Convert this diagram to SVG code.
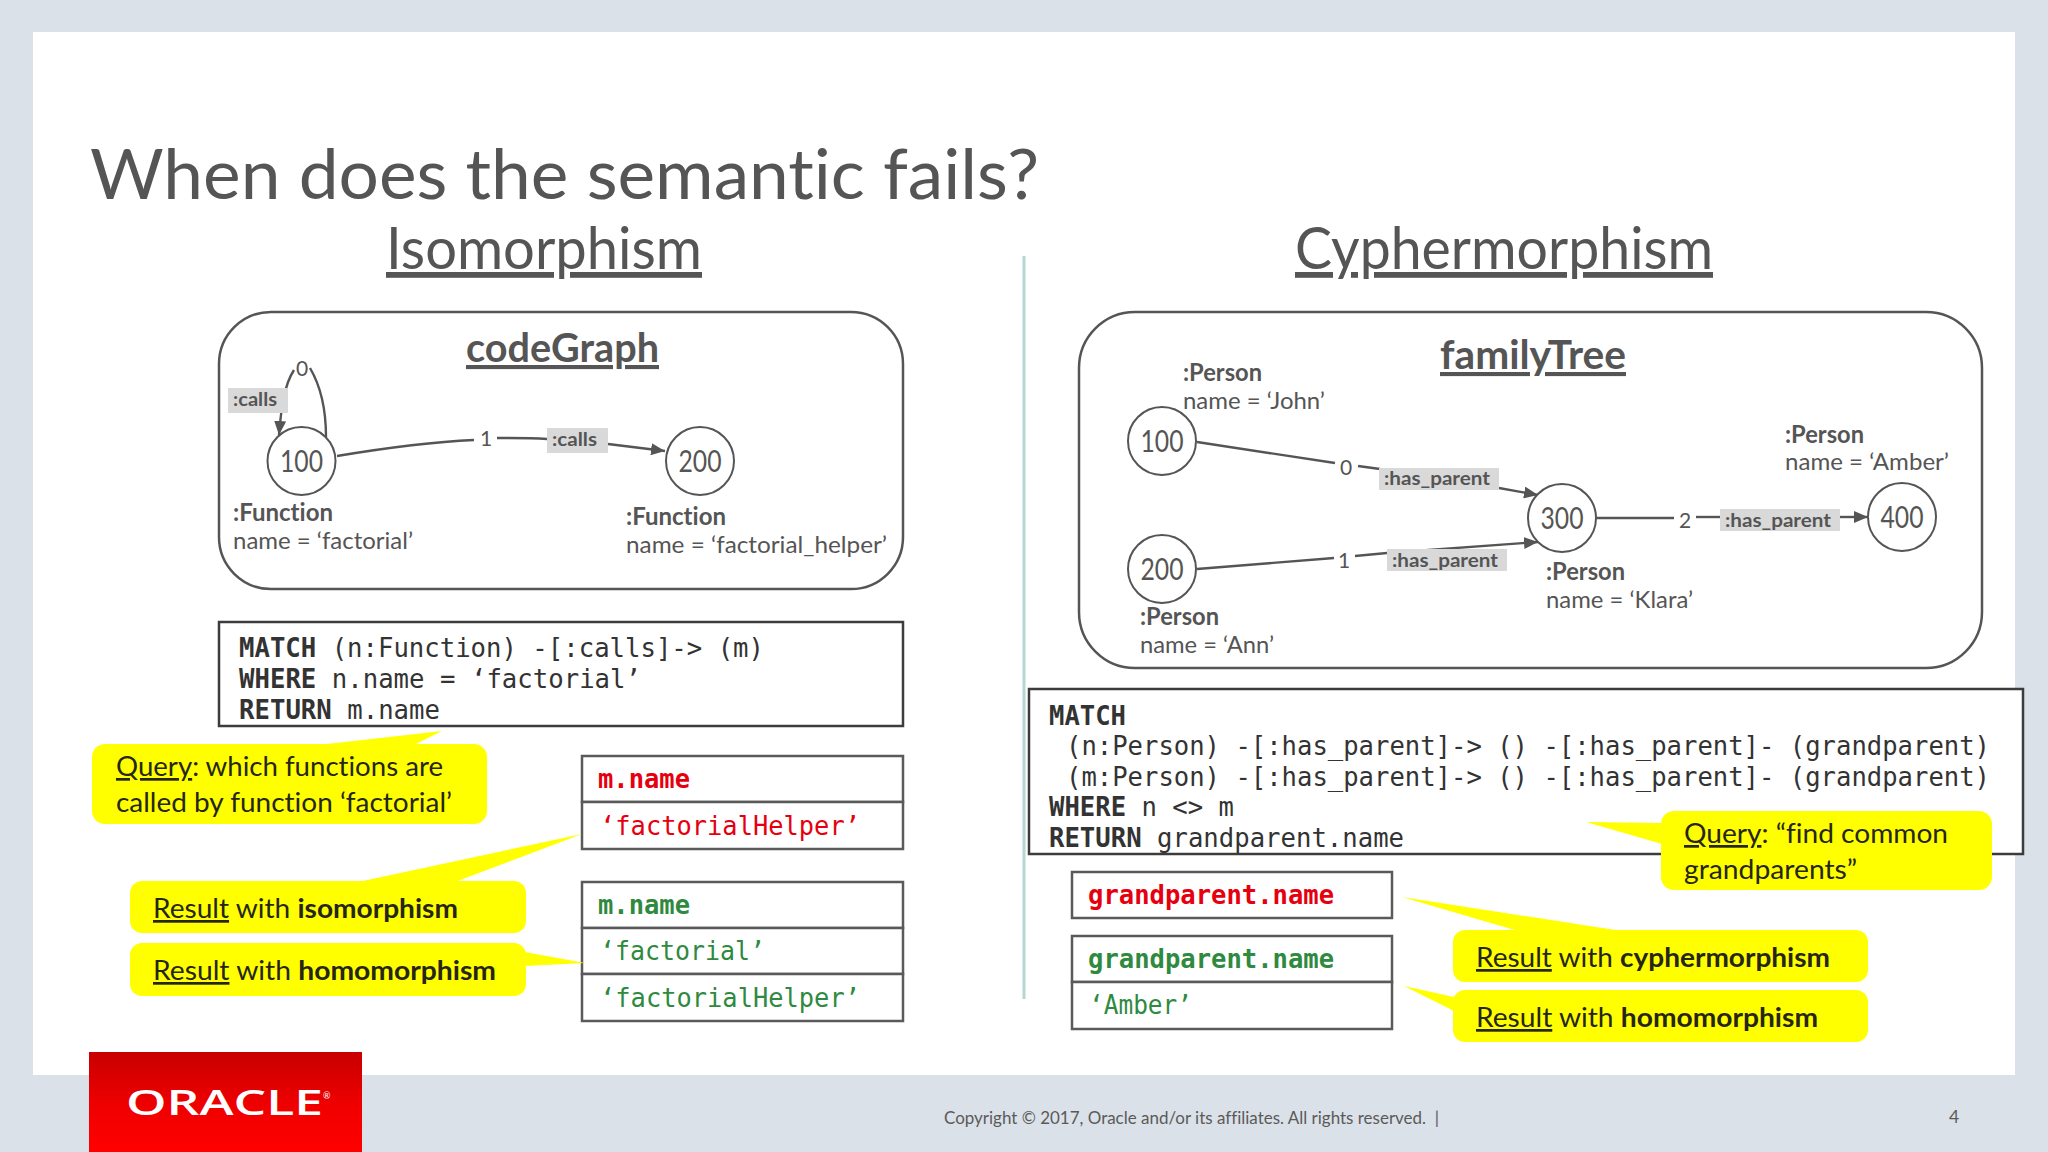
<svg xmlns="http://www.w3.org/2000/svg" width="2048" height="1152" viewBox="0 0 2048 1152">
<style>
text{font-family:Lato,"Liberation Sans",sans-serif;fill:#555;font-variant-ligatures:none}
.title{font-size:70px}
.head{font-size:58px}
.graph{font-size:41px;font-weight:700}
.lab{font-size:24px;font-weight:400}
.b{font-weight:700}
.num{font-size:30px}
.el{font-size:19px;font-weight:700}
.seq{font-size:21px}
.code{font-family:"DejaVu Sans Mono","Liberation Mono",monospace;font-size:26px;fill:#333}
.res{font-family:"DejaVu Sans Mono","Liberation Mono",monospace;font-size:26px}
.red{fill:#e6000f}.green{fill:#2f8a3f}
.note{font-size:27px;fill:#262618}
.u{text-decoration:underline}
.frame{fill:#fff;stroke:#555;stroke-width:2.5}
.box{fill:#fff;stroke:#3c3c3c;stroke-width:2.5}
.cell{fill:#fff;stroke:#5a5a5a;stroke-width:2.5}
.node{fill:#fff;stroke:#555;stroke-width:2}
.bub{fill:#ffff00}
.edge{fill:none;stroke:#555;stroke-width:2.4}
.tag{fill:#d9d9d9}
</style>
<defs>
<marker id="arrow" viewBox="0 0 14 12" refX="14" refY="6" markerWidth="14" markerHeight="12" markerUnits="userSpaceOnUse" orient="auto"><path d="M0,0L14,6L0,12Z" fill="#555"/></marker>
<linearGradient id="red" x1="0" y1="0" x2="0" y2="1"><stop offset="0" stop-color="#c80000"/><stop offset="0.55" stop-color="#f00000"/><stop offset="1" stop-color="#ff0000"/></linearGradient>
</defs>
<rect width="2048" height="1152" fill="#dae1e8"/>
<rect x="33" y="32" width="1982" height="1043" fill="#fff"/>
<rect x="89" y="1052" width="273" height="100" fill="url(#red)"/>
<text x="126" y="1115" font-size="35" font-weight="600" style="font-family:'Open Sans',sans-serif;fill:#fff" textLength="197" lengthAdjust="spacingAndGlyphs">ORACLE</text>
<text x="323" y="1099" font-size="9" style="fill:#fff">®</text>
<text class="title" x="90" y="199" textLength="949" lengthAdjust="spacingAndGlyphs">When does the semantic fails?</text>
<text class="head" x="386" y="269" textLength="316" lengthAdjust="spacingAndGlyphs"><tspan class="u">Isomorphism</tspan></text>
<text class="head" x="1295" y="269" textLength="418" lengthAdjust="spacingAndGlyphs"><tspan class="u">Cyphermorphism</tspan></text>
<line x1="1024" y1="256" x2="1024" y2="999" stroke="#b7d6d1" stroke-width="3"/>

<g id="codeGraph">
<rect class="frame" x="219" y="312" width="684" height="277" rx="52"/>
<text class="graph" x="466" y="362" textLength="193" lengthAdjust="spacingAndGlyphs"><tspan class="u">codeGraph</tspan></text>
</g>
<g id="familyTree">
<rect class="frame" x="1079" y="312" width="903" height="356" rx="56"/>
<text class="graph" x="1440" y="369" textLength="186" lengthAdjust="spacingAndGlyphs"><tspan class="u">familyTree</tspan></text>
</g>

<g id="connectors">
<path class="edge" d="M326,437C326,410 320,385 310,368"/>
<path class="edge" d="M294,370C284,385 281,410 279,435" marker-end="url(#arrow)"/>
<path class="edge" d="M337,456C385,448 430,442 474,440"/>
<path class="edge" d="M497,438C515,438 530,438 547,439"/>
<path class="edge" d="M608,444L665,451" marker-end="url(#arrow)"/>
<path class="edge" d="M1197,442L1335,463"/>
<path class="edge" d="M1358,466L1380,469"/>
<path class="edge" d="M1499,488L1538,495" marker-end="url(#arrow)"/>
<path class="edge" d="M1197,569L1334,558"/>
<path class="edge" d="M1355,556L1387,553"/>
<path class="edge" d="M1387,553L1538,542" marker-end="url(#arrow)"/>
<path class="edge" d="M1596,518L1674,518"/>
<path class="edge" d="M1696,517L1720,517"/>
<path class="edge" d="M1840,517L1868,517" marker-end="url(#arrow)"/>
<rect class="tag" x="228" y="388" width="60" height="25"/>
<text class="el" x="233" y="406" textLength="44" lengthAdjust="spacingAndGlyphs">:calls</text>
<rect class="tag" x="547" y="428" width="61" height="25"/>
<text class="el" x="552" y="446" textLength="45" lengthAdjust="spacingAndGlyphs">:calls</text>
<rect class="tag" x="1379" y="468" width="120" height="22"/>
<text class="el" x="1384" y="485" textLength="106" lengthAdjust="spacingAndGlyphs">:has_parent</text>
<rect class="tag" x="1387" y="549" width="120" height="22"/>
<text class="el" x="1392" y="567" textLength="106" lengthAdjust="spacingAndGlyphs">:has_parent</text>
<rect class="tag" x="1720" y="509" width="120" height="22"/>
<text class="el" x="1725" y="527" textLength="106" lengthAdjust="spacingAndGlyphs">:has_parent</text>
<text class="seq" x="296" y="376">0</text>
<text class="seq" x="480" y="446">1</text>
<text class="seq" x="1340" y="475">0</text>
<text class="seq" x="1338" y="568">1</text>
<text class="seq" x="1679" y="528">2</text>
</g>

<g id="fn100">
<circle class="node" cx="301.5" cy="461" r="34"/>
<text class="num" x="280" y="471.5" textLength="43" lengthAdjust="spacingAndGlyphs">100</text>
<text class="lab b" x="233" y="521" textLength="100" lengthAdjust="spacingAndGlyphs">:Function</text>
<text class="lab" x="233" y="549" textLength="180" lengthAdjust="spacingAndGlyphs">name = ‘factorial’</text>
</g>
<g id="fn200">
<circle class="node" cx="700" cy="461" r="34"/>
<text class="num" x="678.5" y="471.5" textLength="43" lengthAdjust="spacingAndGlyphs">200</text>
<text class="lab b" x="626" y="525" textLength="100" lengthAdjust="spacingAndGlyphs">:Function</text>
<text class="lab" x="626" y="553" textLength="261" lengthAdjust="spacingAndGlyphs">name = ‘factorial_helper’</text>
</g>
<g id="p100">
<circle class="node" cx="1162" cy="441" r="34"/>
<text class="num" x="1140.5" y="451.5" textLength="43" lengthAdjust="spacingAndGlyphs">100</text>
<text class="lab b" x="1183" y="381" textLength="79" lengthAdjust="spacingAndGlyphs">:Person</text>
<text class="lab" x="1183" y="409" textLength="142" lengthAdjust="spacingAndGlyphs">name = ‘John’</text>
</g>
<g id="p200">
<circle class="node" cx="1162" cy="569" r="34"/>
<text class="num" x="1140.5" y="579.5" textLength="43" lengthAdjust="spacingAndGlyphs">200</text>
<text class="lab b" x="1140" y="625" textLength="79" lengthAdjust="spacingAndGlyphs">:Person</text>
<text class="lab" x="1140" y="653" textLength="134" lengthAdjust="spacingAndGlyphs">name = ‘Ann’</text>
</g>
<g id="p300">
<circle class="node" cx="1562" cy="518" r="34"/>
<text class="num" x="1540.5" y="528.5" textLength="43" lengthAdjust="spacingAndGlyphs">300</text>
<text class="lab b" x="1546" y="580" textLength="79" lengthAdjust="spacingAndGlyphs">:Person</text>
<text class="lab" x="1546" y="608" textLength="147" lengthAdjust="spacingAndGlyphs">name = ‘Klara’</text>
</g>
<g id="p400">
<circle class="node" cx="1902" cy="517" r="34"/>
<text class="num" x="1880.5" y="527.5" textLength="43" lengthAdjust="spacingAndGlyphs">400</text>
<text class="lab b" x="1785" y="443" textLength="79" lengthAdjust="spacingAndGlyphs">:Person</text>
<text class="lab" x="1785" y="470" textLength="164" lengthAdjust="spacingAndGlyphs">name = ‘Amber’</text>
</g>

<g id="query-left">
<rect class="box" x="219" y="622" width="684" height="104"/>
<text class="code" x="239" y="657" textLength="525" lengthAdjust="spacingAndGlyphs"><tspan class="b">MATCH</tspan> (n:Function) -[:calls]-&gt; (m)</text>
<text class="code" x="239" y="688" textLength="402" lengthAdjust="spacingAndGlyphs"><tspan class="b">WHERE</tspan> n.name = ‘factorial’</text>
<text class="code" x="239" y="719" textLength="201" lengthAdjust="spacingAndGlyphs"><tspan class="b">RETURN</tspan> m.name</text>
</g>
<g id="query-right">
<rect class="box" x="1029" y="689" width="994" height="165"/>
<text class="code b" x="1049" y="725" textLength="77" lengthAdjust="spacingAndGlyphs">MATCH</text>
<text class="code" x="1066" y="755" textLength="924" lengthAdjust="spacingAndGlyphs">(n:Person) -[:has_parent]-&gt; () -[:has_parent]- (grandparent)</text>
<text class="code" x="1066" y="786" textLength="924" lengthAdjust="spacingAndGlyphs">(m:Person) -[:has_parent]-&gt; () -[:has_parent]- (grandparent)</text>
<text class="code" x="1049" y="816" textLength="185" lengthAdjust="spacingAndGlyphs"><tspan class="b">WHERE</tspan> n &lt;&gt; m</text>
<text class="code" x="1049" y="847" textLength="355" lengthAdjust="spacingAndGlyphs"><tspan class="b">RETURN</tspan> grandparent.name</text>
</g>

<g id="table-iso">
<rect class="cell" x="582" y="756" width="321" height="46"/>
<rect class="cell" x="582" y="802" width="321" height="47"/>
<text class="res red b" x="598" y="788" textLength="92" lengthAdjust="spacingAndGlyphs">m.name</text>
<text class="res red" x="600" y="835" textLength="260" lengthAdjust="spacingAndGlyphs">‘factorialHelper’</text>
</g>
<g id="table-homo-left">
<rect class="cell" x="582" y="882" width="321" height="46"/>
<rect class="cell" x="582" y="928" width="321" height="46"/>
<rect class="cell" x="582" y="974" width="321" height="47"/>
<text class="res green b" x="598" y="914" textLength="92" lengthAdjust="spacingAndGlyphs">m.name</text>
<text class="res green" x="600" y="960" textLength="165" lengthAdjust="spacingAndGlyphs">‘factorial’</text>
<text class="res green" x="600" y="1007" textLength="260" lengthAdjust="spacingAndGlyphs">‘factorialHelper’</text>
</g>
<g id="table-cypher">
<rect class="cell" x="1072" y="872" width="320" height="46"/>
<text class="res red b" x="1088" y="904" textLength="246" lengthAdjust="spacingAndGlyphs">grandparent.name</text>
</g>
<g id="table-homo-right">
<rect class="cell" x="1072" y="936" width="320" height="46"/>
<rect class="cell" x="1072" y="982" width="320" height="47"/>
<text class="res green b" x="1088" y="968" textLength="246" lengthAdjust="spacingAndGlyphs">grandparent.name</text>
<text class="res green" x="1089" y="1014" textLength="103" lengthAdjust="spacingAndGlyphs">‘Amber’</text>
</g>

<g id="note-query-left">
<path class="bub" d="M318,745L442,731L414,745Z"/>
<rect class="bub" x="92" y="744" width="395" height="80" rx="13"/>
<text class="note" x="116" y="776" textLength="327" lengthAdjust="spacingAndGlyphs"><tspan class="u">Query</tspan>: which functions are</text>
<text class="note" x="116" y="812" textLength="336" lengthAdjust="spacingAndGlyphs">called by function ‘factorial’</text>
</g>
<g id="note-iso">
<path class="bub" d="M358,882L582,834L455,882Z"/>
<rect class="bub" x="130" y="881" width="396" height="52" rx="12"/>
<text class="note" x="153" y="918" textLength="305" lengthAdjust="spacingAndGlyphs"><tspan class="u">Result</tspan> with <tspan class="b">isomorphism</tspan></text>
</g>
<g id="note-homo-left">
<path class="bub" d="M525,952L585,963L525,966Z"/>
<rect class="bub" x="130" y="943" width="396" height="53" rx="12"/>
<text class="note" x="153" y="980" textLength="343" lengthAdjust="spacingAndGlyphs"><tspan class="u">Result</tspan> with <tspan class="b">homomorphism</tspan></text>
</g>
<g id="note-query-right">
<path class="bub" d="M1662,823L1586,822L1662,844Z"/>
<rect class="bub" x="1661" y="811" width="331" height="79" rx="13"/>
<text class="note" x="1684" y="843" textLength="264" lengthAdjust="spacingAndGlyphs"><tspan class="u">Query</tspan>: “find common</text>
<text class="note" x="1684" y="879" textLength="173" lengthAdjust="spacingAndGlyphs">grandparents”</text>
</g>
<g id="note-cypher">
<path class="bub" d="M1518,931L1402,897L1622,931Z"/>
<rect class="bub" x="1453" y="930" width="415" height="52" rx="12"/>
<text class="note" x="1476" y="967" textLength="354" lengthAdjust="spacingAndGlyphs"><tspan class="u">Result</tspan> with <tspan class="b">cyphermorphism</tspan></text>
</g>
<g id="note-homo-right">
<path class="bub" d="M1454,997L1404,986L1454,1011Z"/>
<rect class="bub" x="1453" y="990" width="415" height="52" rx="12"/>
<text class="note" x="1476" y="1027" textLength="342" lengthAdjust="spacingAndGlyphs"><tspan class="u">Result</tspan> with <tspan class="b">homomorphism</tspan></text>
</g>

<text x="944" y="1124" font-size="17.5" textLength="495" lengthAdjust="spacingAndGlyphs" style="fill:#5a5a5a;white-space:pre">Copyright © 2017, Oracle and/or its affiliates. All rights reserved.  |</text>
<text x="1949" y="1123" font-size="17.5" style="fill:#5a5a5a">4</text>
</svg>
